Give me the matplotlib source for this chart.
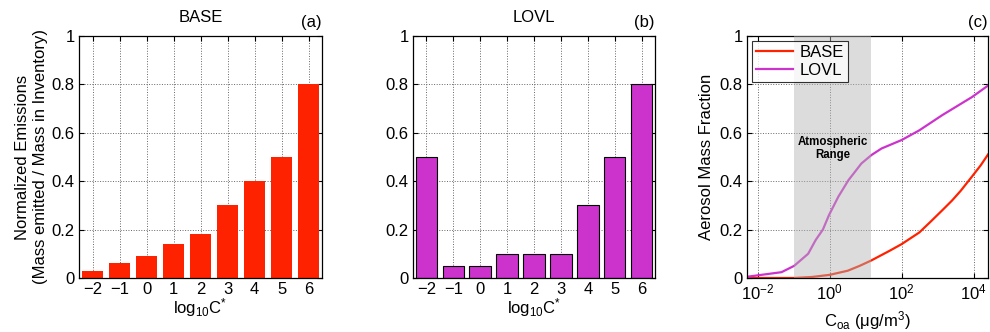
import numpy as np
import matplotlib
matplotlib.use('Agg')
import matplotlib.pyplot as plt

plt.rcParams['font.family'] = ['Liberation Sans', 'DejaVu Sans']
plt.rcParams['mathtext.fontset'] = 'custom'
plt.rcParams['mathtext.rm'] = 'Liberation Sans'
plt.rcParams['mathtext.it'] = 'Liberation Sans:italic'
plt.rcParams['mathtext.bf'] = 'Liberation Sans:bold'

# volatility bins (log10 C*)
bins = [-2, -1, 0, 1, 2, 3, 4, 5, 6]
base_emis = [0.03, 0.06, 0.09, 0.14, 0.18, 0.30, 0.40, 0.50, 0.80]
lovl_emis = [0.50, 0.05, 0.05, 0.10, 0.10, 0.10, 0.30, 0.50, 0.80]

# aerosol mass fraction vs C_OA (x as log10 C_OA)
lovl_logc = [-2.3, -1.34, -0.99, -0.60, -0.39, -0.19, -0.02, 0.24, 0.52, 0.88,
             1.16, 1.44, 2.0, 2.49, 3.13, 3.96, 4.4]
lovl_frac = [0.005, 0.024, 0.05, 0.10, 0.157, 0.20, 0.26, 0.336, 0.404, 0.473,
             0.508, 0.535, 0.57, 0.61, 0.673, 0.748, 0.795]
base_logc = [-2.3, -1.0, -0.5, 0.0, 0.5, 0.83, 1.15, 1.66, 2.0, 2.49, 2.8, 3.13,
             3.4, 3.64, 3.96, 4.2, 4.4]
base_frac = [0.0, 0.0, 0.004, 0.013, 0.03, 0.05, 0.072, 0.112, 0.14, 0.188, 0.232,
             0.28, 0.32, 0.36, 0.42, 0.466, 0.51]
atm_range = [0.1, 14]

red = '#ff2200'
mag = '#cc33cc'
fs = 12

fig = plt.figure(figsize=(9.9, 3.32), dpi=100)
ax1 = fig.add_axes([0.0798, 0.1627, 0.2455, 0.729])
ax2 = fig.add_axes([0.4172, 0.1627, 0.2444, 0.729])
ax3 = fig.add_axes([0.7545, 0.1627, 0.2434, 0.729])


def style(ax):
    ax.tick_params(direction='in', top=True, right=True, length=3.5, labelsize=fs,
                   width=0.8, pad=3)
    ax.grid(True, linestyle=':', color='#666666', linewidth=0.7)
    ax.set_axisbelow(True)
    for s in ax.spines.values():
        s.set_linewidth(0.9)


for ax, vals, name, tag, ec in [(ax1, base_emis, 'BASE', '(a)', 'none'),
                                (ax2, lovl_emis, 'LOVL', '(b)', 'k')]:
    col = red if name == 'BASE' else mag
    ax.bar(bins, vals, width=0.8, color=col, edgecolor=ec, linewidth=0.8)
    ax.set_xlim(-2.5, 6.5)
    ax.set_ylim(0, 1)
    ax.set_xticks(bins)
    ax.set_xticklabels([str(b).replace('-', '\u2212') for b in bins])
    ax.set_yticks([0, 0.2, 0.4, 0.6, 0.8, 1])
    ax.set_yticklabels(['0', '0.2', '0.4', '0.6', '0.8', '1'])
    ax.set_title(name, fontsize=fs, pad=10)
    ax.text(1.0, 1.025, tag, transform=ax.transAxes, ha='right', va='bottom', fontsize=fs)
    ax.set_xlabel('log$_{10}$C$^{*}$', fontsize=fs, labelpad=-1)
    style(ax)

ax1.set_ylabel('Normalized Emissions\n(Mass emitted / Mass in Inventory)', fontsize=fs,
               labelpad=3)

# panel c
ax3.plot(10 ** np.array(base_logc), base_frac, color=red, lw=1.6, label='BASE')
ax3.plot(10 ** np.array(lovl_logc), lovl_frac, color=mag, lw=1.6, label='LOVL')
ax3.axvspan(atm_range[0], atm_range[1], color='#b3b3b3', alpha=0.45, lw=0, zorder=3)
ax3.text(1.2, 0.535, 'Atmospheric\nRange', ha='center', va='center', fontsize=8.3,
         fontweight='bold', zorder=4)
ax3.set_xscale('log')
ax3.set_xlim(0.005, 25000)
ax3.set_ylim(0, 1)
ax3.set_xticks([1e-2, 1e0, 1e2, 1e4])
ax3.xaxis.set_minor_locator(matplotlib.ticker.NullLocator())
ax3.set_yticks([0, 0.2, 0.4, 0.6, 0.8, 1])
ax3.set_yticklabels(['0', '0.2', '0.4', '0.6', '0.8', '1'])
ax3.set_ylabel('Aerosol Mass Fraction', fontsize=fs, labelpad=4)
ax3.set_xlabel('C$_{\\mathrm{oa}}$ ($\\mathrm{\\mu}$g/m$^3$)', fontsize=fs, labelpad=5)
ax3.text(1.0, 1.025, '(c)', transform=ax3.transAxes, ha='right', va='bottom', fontsize=fs)
style(ax3)
leg = ax3.legend(loc='upper left', fontsize=fs, frameon=True, fancybox=False,
                 handlelength=2.2, borderpad=0.25, labelspacing=0.15, handletextpad=0.4,
                 borderaxespad=0.3)
leg.get_frame().set_edgecolor('k')
leg.get_frame().set_linewidth(0.8)
leg.set_zorder(5)

fig.savefig('out.png', dpi=100)
